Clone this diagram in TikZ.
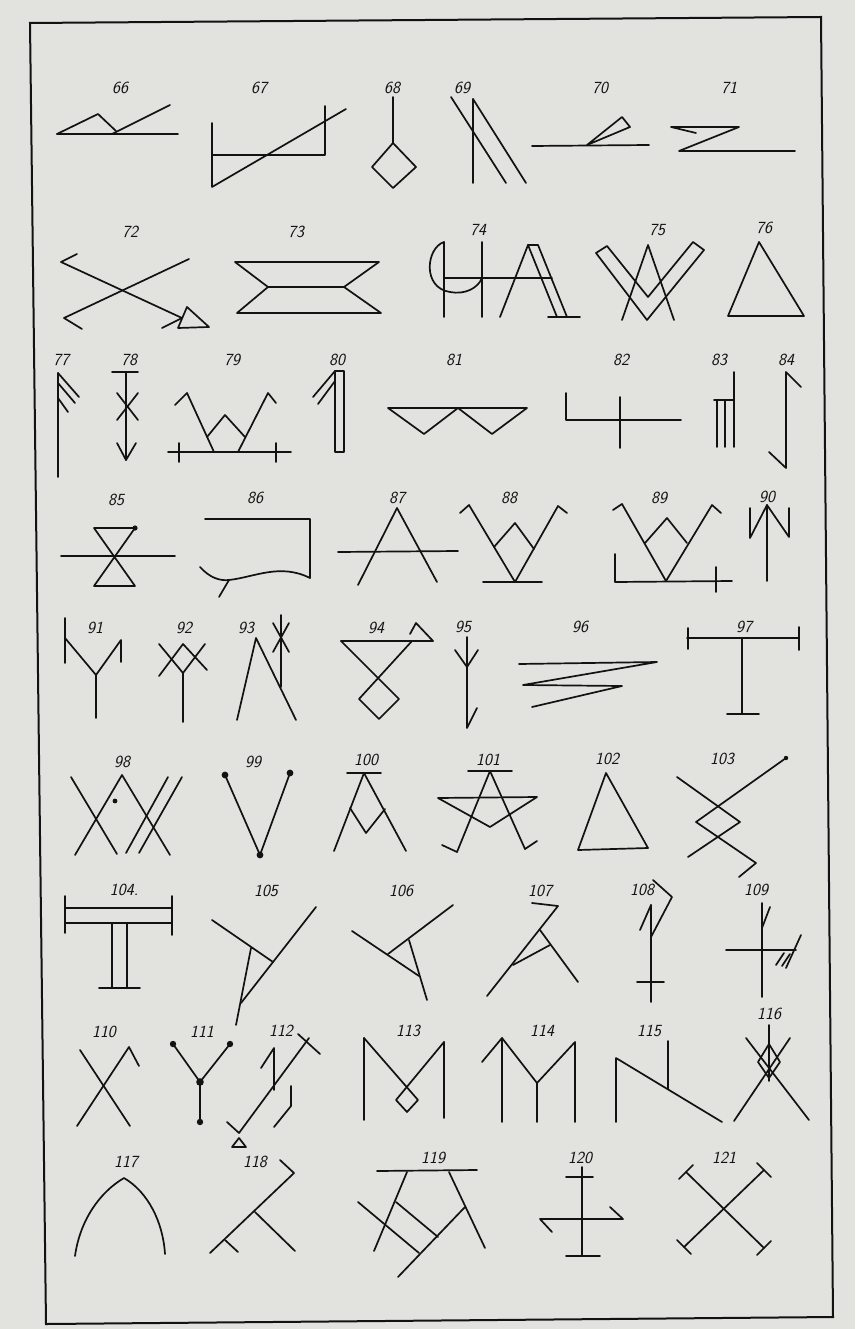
\documentclass[tikz,border=0pt]{standalone}
\usepackage{tikz}
\usetikzlibrary{calc}

\definecolor{paper}{RGB}{226,226,223}
\definecolor{ink}{RGB}{18,18,18}

\begin{document}
\begin{tikzpicture}[x=1pt, y=-1pt,
  ln/.style={draw=ink, line width=1.7pt, line cap=round, line join=round},
  frm/.style={draw=ink, line width=2pt, line join=miter},
  lbl/.style={font=\sffamily\itshape\fontsize{17}{17}\selectfont, text=ink, inner sep=0pt},
  dot/.style={fill=ink}]
\fill[paper] (0,0) rectangle (855,1329);
\useasboundingbox (0,0) rectangle (855,1329);
\draw[frm] (30,23) -- (821,17) -- (833,1317) -- (46,1324) -- cycle;
% numbers
\foreach \n/\x/\y in {66/120/88, 67/259/88, 68/392/88, 69/462/88, 70/600/88, 71/729/88,
  72/130/232, 73/296/232, 74/478/230, 75/657/230, 76/764/228,
  77/61/360, 78/129/360, 79/232/360, 80/337/360, 81/454/360, 82/621/360, 83/719/360, 84/786/360,
  85/116/500, 86/255/498, 87/397/498, 88/509/498, 89/659/498, 90/767/497,
  91/95/628, 92/184/628, 93/246/628, 94/376/628, 95/463/627, 96/580/627, 97/744/627,
  98/122/762, 99/253/762, 100/366/760, 101/488/760, 102/607/759, 103/722/759,
  105/266/891, 106/401/891, 107/540/891, 108/642/890, 109/756/890,
  110/104/1032, 111/202/1032, 112/281/1031, 113/408/1031, 114/542/1031, 115/649/1031, 116/769/1014,
  117/126/1162, 118/255/1162, 119/433/1158, 120/580/1158, 121/724/1158}
  \node[lbl] (l\n) at (\x,\y) {\n};
\node[lbl] (l104) at (124,890) {104.};
% row 66--71
\draw[ln] (57,134) -- (178,134);
\draw[ln] (57,134) -- (98,114) -- (116,131);
\draw[ln] (112,134) -- (170,105);
\draw[ln] (212,123) -- (212,187) -- (346,109);
\draw[ln] (212,155) -- (325,155) -- (325,106);
\draw[ln] (393,97) -- (393,143);
\draw[ln] (393,143) -- (416,167) -- (393,188) -- (372,167) -- cycle;
\draw[ln] (473,99) -- (473,183);
\draw[ln] (451,97) -- (506,183);
\draw[ln] (473,99) -- (526,183);
\draw[ln] (532,146) -- (649,145);
\draw[ln] (587,145) -- (622,117) -- (630,127) -- cycle;
\draw[ln] (696,133) -- (671,127) -- (739,127) -- (679,151) -- (795,151);
% row 72--76
\draw[ln] (77,254) -- (61,262) -- (182,318);
\draw[ln] (189,259) -- (64,318) -- (82,329);
\draw[ln] (187,307) -- (209,327) -- (178,328) -- cycle;
\draw[ln] (162,328) -- (182,318);
\draw[ln] (235,262) -- (379,262) -- (344,287) -- (381,313) -- (237,313) -- (268,287) -- cycle;
\draw[ln] (268,287) -- (344,287);
\draw[ln] (444,242) -- (444,317);
\draw[ln] (482,242) -- (482,317);
\draw[ln] (444,242) .. controls (426,248) and (422,288) .. (450,292) .. controls (465,295) and (478,288) .. (482,278);
\draw[ln] (444,278) -- (552,278);
\draw[ln] (500,317) -- (528,245) -- (538,245) -- (567,317);
\draw[ln] (528,245) -- (557,317);
\draw[ln] (548,317) -- (580,317);
\draw[ln] (647,320) -- (596,253) -- (607,246) -- (648,297) -- (693,242) -- (704,250) -- cycle;
\draw[ln] (622,320) -- (648,245) -- (674,320);
\draw[ln] (759,242) -- (804,316) -- (728,316) -- cycle;
% row 77--84
\draw[ln] (58,373) -- (58,477);
\draw[ln] (58,373) -- (79,397);
\draw[ln] (58,383) -- (75,403);
\draw[ln] (58,398) -- (68,412);
\draw[ln] (126,372) -- (126,460);
\draw[ln] (112,372) -- (138,372);
\draw[ln] (117,393) -- (138,420);
\draw[ln] (138,393) -- (117,420);
\draw[ln] (117,443) -- (126,460) -- (136,443);
\draw[ln] (168,452) -- (291,452);
\draw[ln] (179,443) -- (179,462);
\draw[ln] (276,443) -- (276,462);
\draw[ln] (175,405) -- (187,393) -- (214,452);
\draw[ln] (276,403) -- (268,393) -- (238,452);
\draw[ln] (207,437) -- (225,415) -- (245,437);
\draw[ln] (335,371) rectangle (344,452);
\draw[ln] (335,371) -- (313,397);
\draw[ln] (335,381) -- (318,404);
\draw[ln] (388,408) -- (527,408) -- (492,434) -- (458,408) -- (424,434) -- cycle;
\draw[ln] (566,393) -- (566,420) -- (681,420);
\draw[ln] (620,397) -- (620,448);
\draw[ln] (734,372) -- (734,447);
\draw[ln] (714,400) -- (734,400);
\draw[ln] (717,400) -- (717,447);
\draw[ln] (725,400) -- (725,447);
\draw[ln] (801,387) -- (786,372) -- (786,468) -- (769,452);
% row 85--90
\draw[ln] (61,556) -- (175,556);
\draw[ln] (94,528) -- (135,528) -- (94,586) -- (135,586) -- cycle;
\fill[dot] (135,528) circle (2.6);
\draw[ln] (205,519) -- (310,519) -- (310,578);
\draw[ln] (200,567) .. controls (210,578) and (220,581) .. (229,580) .. controls (255,577) and (280,563) .. (310,578);
\draw[ln] (229,580) -- (219,597);
\draw[ln] (358,585) -- (397,508) -- (437,582);
\draw[ln] (338,552) -- (458,551);
\draw[ln] (460,513) -- (469,505) -- (515,582) -- (558,506) -- (567,513);
\draw[ln] (494,547) -- (515,523) -- (534,549);
\draw[ln] (483,582) -- (542,582);
\draw[ln] (613,510) -- (622,504) -- (666,581) -- (712,505) -- (721,513);
\draw[ln] (645,543) -- (667,518) -- (687,543);
\draw[ln] (615,554) -- (615,582) -- (732,581);
\draw[ln] (716,567) -- (716,592);
\draw[ln] (750,508) -- (750,538) -- (767,505) -- (789,537) -- (789,508);
\draw[ln] (767,505) -- (767,581);
% row 91--97
\draw[ln] (65,618) -- (65,663);
\draw[ln] (65,638) -- (96,675) -- (121,640) -- (121,662);
\draw[ln] (96,675) -- (96,718);
\draw[ln] (159,644) -- (183,673) -- (205,644);
\draw[ln] (159,676) -- (183,644) -- (207,670);
\draw[ln] (183,673) -- (183,722);
\draw[ln] (237,720) -- (256,638) -- (296,720);
\draw[ln] (281,615) -- (281,687);
\draw[ln] (273,623) -- (289,652);
\draw[ln] (289,623) -- (273,652);
\draw[ln] (341,641) -- (433,641);
\draw[ln] (341,641) -- (399,699) -- (379,719) -- (359,699) -- (412,641);
\draw[ln] (410,634) -- (416,623) -- (433,641);
\draw[ln] (467,637) -- (467,728) -- (477,708);
\draw[ln] (455,650) -- (467,667) -- (478,650);
\draw[ln] (519,664) -- (657,662) -- (523,685) -- (622,686) -- (532,707);
\draw[ln] (687,638) -- (799,638);
\draw[ln] (688,628) -- (688,649);
\draw[ln] (799,627) -- (799,650);
\draw[ln] (742,638) -- (742,714);
\draw[ln] (727,714) -- (759,714);
% row 98--103
\draw[ln] (75,855) -- (122,775) -- (170,855);
\draw[ln] (71,777) -- (117,854);
\draw[ln] (168,777) -- (126,853);
\draw[ln] (182,777) -- (139,853);
\fill[dot] (115,801) circle (2.4);
\draw[ln] (225,775) -- (260,855) -- (290,773);
\foreach \p in {(225,775),(260,855),(290,773)} \fill[dot] \p circle (3.4);
\draw[ln] (347,773) -- (381,773);
\draw[ln] (334,851) -- (364,773) -- (406,851);
\draw[ln] (350,808) -- (366,833) -- (385,809);
\draw[ln] (468,771) -- (512,771);
\draw[ln] (442,845) -- (457,852) -- (490,771) -- (525,849) -- (537,841);
\draw[ln] (438,798) -- (537,797) -- (490,827) -- cycle;
\draw[ln] (606,773) -- (648,848) -- (578,850) -- cycle;
\draw[ln] (677,777) -- (740,822) -- (688,857);
\draw[ln] (786,758) -- (696,822) -- (756,863) -- (739,877);
\fill[dot] (786,758) circle (2.2);
% row 104--109
\draw[ln] (65,908) -- (172,908);
\draw[ln] (65,923) -- (172,923);
\draw[ln] (65,896) -- (65,933);
\draw[ln] (172,896) -- (172,935);
\draw[ln] (112,923) -- (112,988);
\draw[ln] (127,923) -- (127,988);
\draw[ln] (99,988) -- (140,988);
\draw[ln] (212,920) -- (273,962);
\draw[ln] (316,907) -- (241,1003);
\draw[ln] (251,948) -- (236,1025);
\draw[ln] (453,905) -- (388,954);
\draw[ln] (352,931) -- (419,976);
\draw[ln] (409,940) -- (427,1000);
\draw[ln] (532,903) -- (558,906) -- (487,996);
\draw[ln] (540,930) -- (578,982);
\draw[ln] (513,965) -- (550,945);
\draw[ln] (651,905) -- (651,1002);
\draw[ln] (637,982) -- (664,982);
\draw[ln] (640,930) -- (651,905);
\draw[ln] (651,937) -- (672,897) -- (653,880);
\draw[ln] (762,903) -- (762,997);
\draw[ln] (762,928) -- (770,907);
\draw[ln] (726,950) -- (796,950);
\draw[ln] (776,965) -- (784,953);
\draw[ln] (782,966) -- (790,954);
\draw[ln] (786,968) -- (801,935);
% row 110--116
\draw[ln] (80,1050) -- (130,1126);
\draw[ln] (139,1066) -- (129,1047) -- (77,1126);
\draw[ln] (173,1044) -- (200,1082) -- (230,1044);
\draw[ln] (200,1082) -- (200,1122);
\foreach \p in {(173,1044),(230,1044),(200,1122)} \fill[dot] \p circle (3.2);
\fill[dot] (200,1082) circle (3.8);
\draw[ln] (261,1068) -- (274,1048) -- (274,1090);
\draw[ln] (291,1086) -- (291,1106) -- (274,1127);
\draw[ln] (227,1122) -- (239,1133) -- (309,1038);
\draw[ln] (298,1034) -- (320,1054);
\draw[ln] (239,1138) -- (246,1147) -- (232,1147) -- cycle;
\draw[ln] (364,1038) -- (364,1120);
\draw[ln] (444,1042) -- (444,1118);
\draw[ln] (364,1038) -- (418,1100) -- (407,1112) -- (396,1100) -- (444,1042);
\draw[ln] (482,1062) -- (502,1038) -- (502,1122);
\draw[ln] (502,1038) -- (537,1083) -- (575,1042) -- (575,1122);
\draw[ln] (537,1083) -- (537,1122);
\draw[ln] (668,1041) -- (668,1089);
\draw[ln] (616,1122) -- (616,1058) -- (722,1122);
\draw[ln] (769,1025) -- (769,1081);
\draw[ln] (790,1038) -- (734,1121);
\draw[ln] (746,1038) -- (809,1120);
\draw[ln] (769,1044) -- (758,1062) -- (769,1078) -- (780,1062) -- cycle;
% row 117--121
\draw[ln] (75,1256) .. controls (80,1220) and (100,1192) .. (124,1178) .. controls (148,1192) and (163,1222) .. (165,1254);
\draw[ln] (280,1160) -- (294,1173) -- (210,1253);
\draw[ln] (255,1212) -- (295,1251);
\draw[ln] (225,1240) -- (238,1252);
\draw[ln] (377,1171) -- (477,1170);
\draw[ln] (407,1172) -- (374,1251);
\draw[ln] (449,1172) -- (485,1248);
\draw[ln] (358,1202) -- (419,1253);
\draw[ln] (396,1202) -- (438,1237);
\draw[ln] (465,1207) -- (398,1277);
\draw[ln] (582,1167) -- (582,1256);
\draw[ln] (566,1177) -- (593,1177);
\draw[ln] (566,1256) -- (600,1256);
\draw[ln] (552,1232) -- (540,1219) -- (623,1219) -- (610,1207);
\draw[ln] (686,1172) -- (764,1248);
\draw[ln] (764,1170) -- (684,1247);
\draw[ln] (679,1179) -- (693,1165);
\draw[ln] (757,1163) -- (771,1177);
\draw[ln] (677,1240) -- (691,1254);
\draw[ln] (757,1255) -- (771,1241);
\end{tikzpicture}
\end{document}
